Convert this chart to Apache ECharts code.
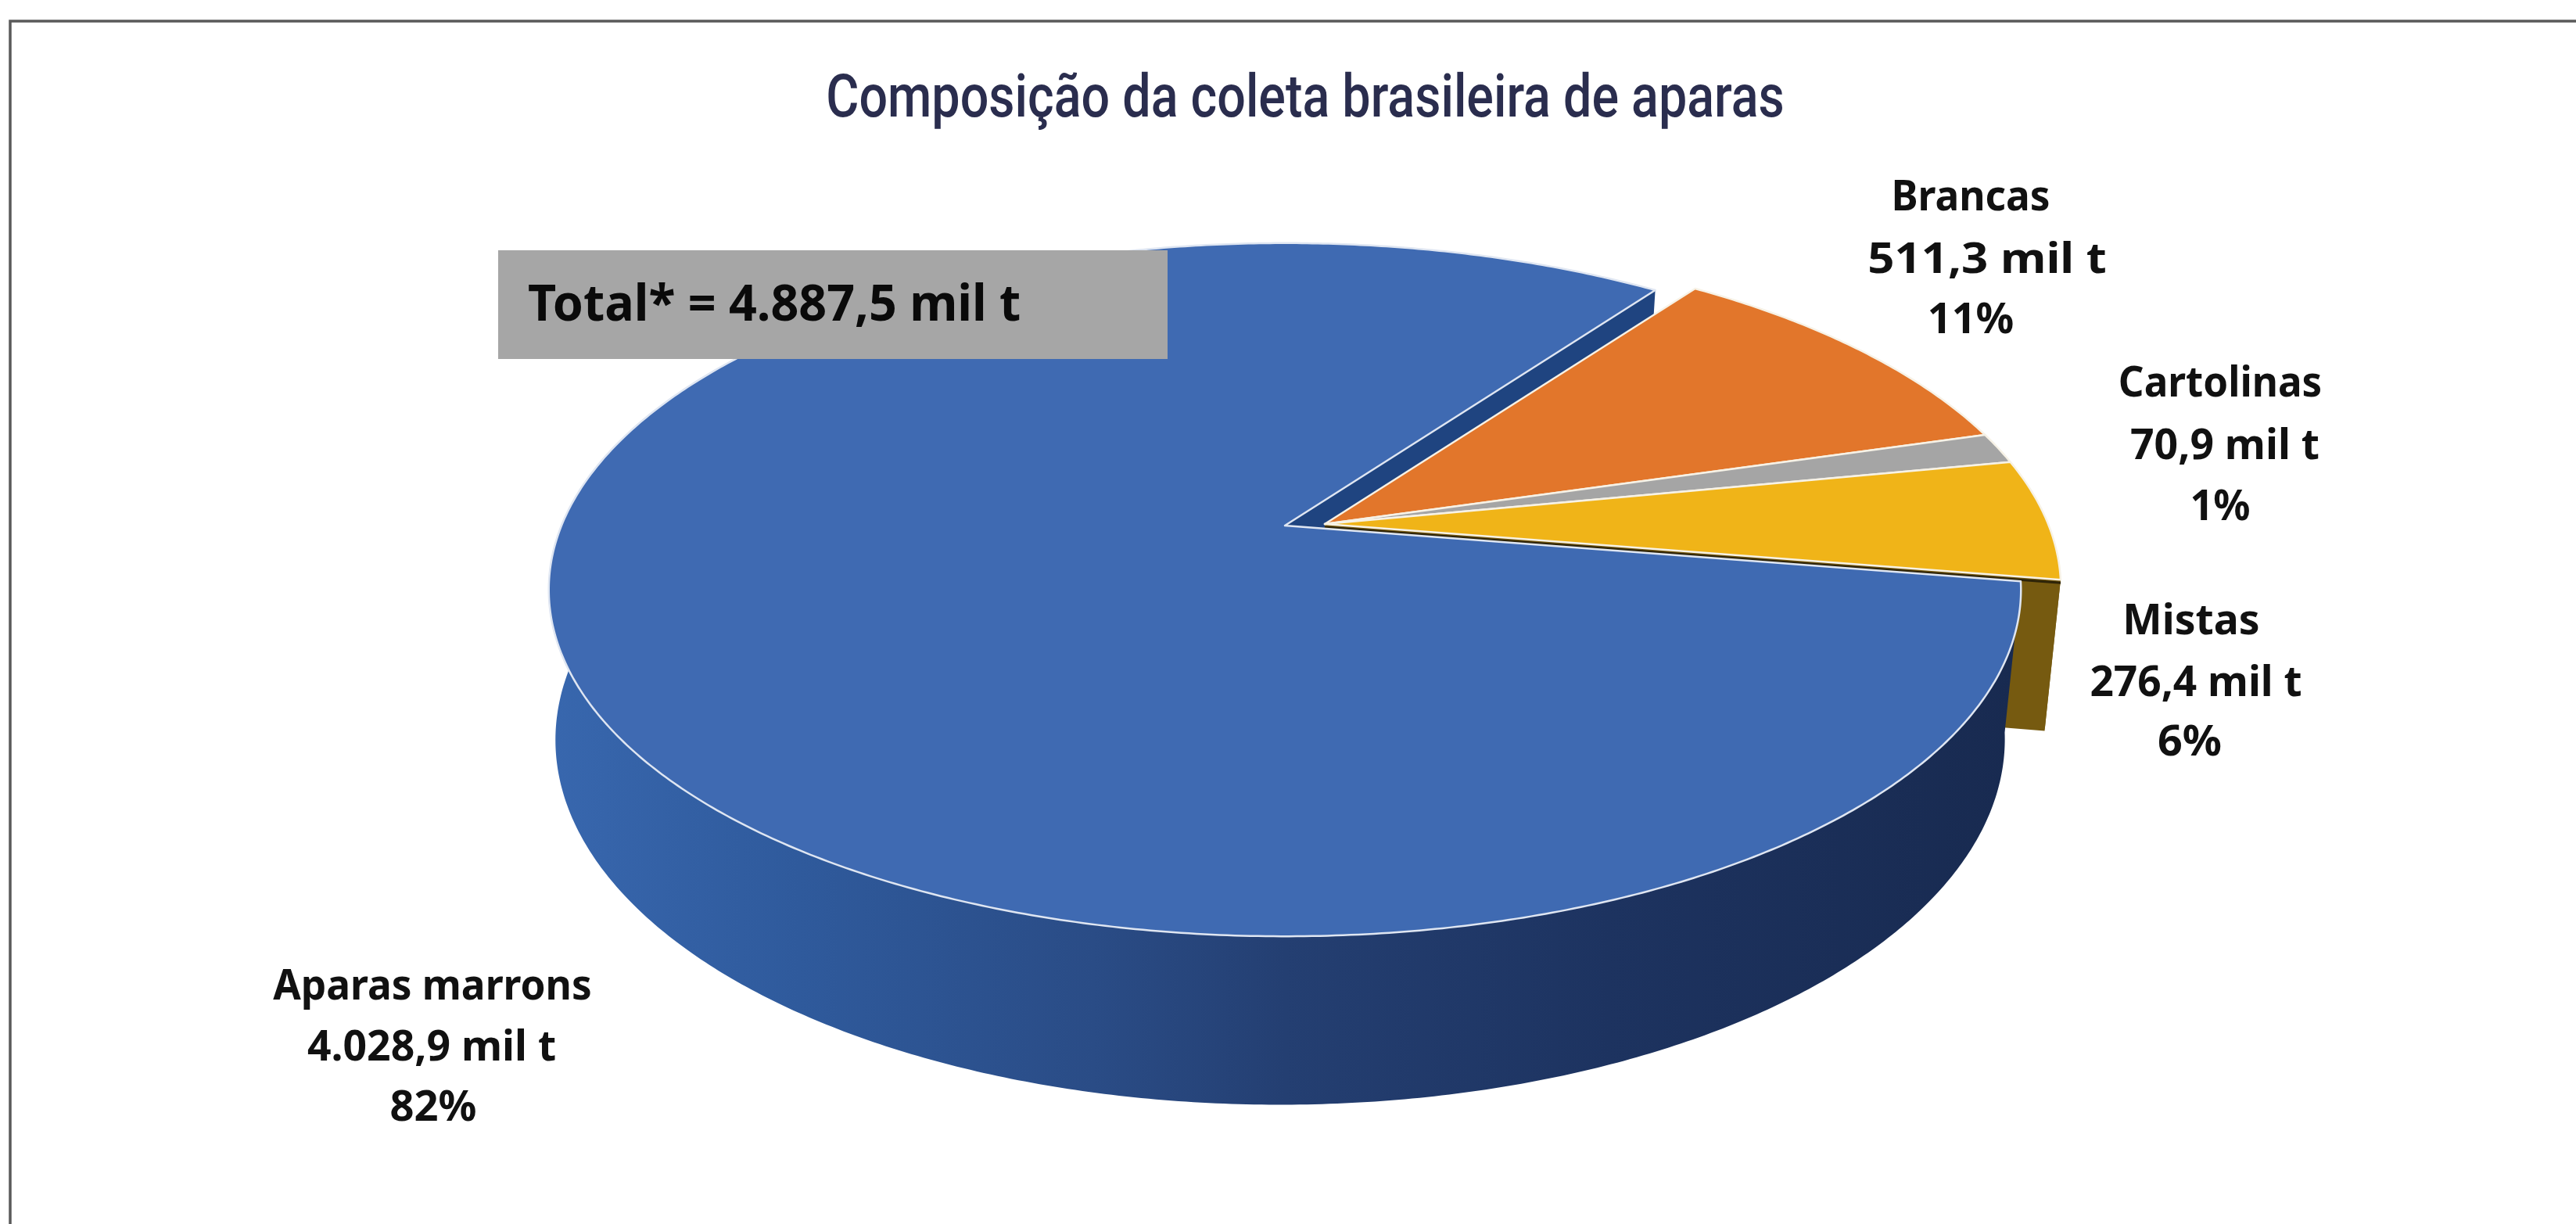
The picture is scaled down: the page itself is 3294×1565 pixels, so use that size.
<!DOCTYPE html>
<html lang="pt">
<head>
    <meta charset="UTF-8">
    <title>Composição da coleta brasileira de aparas</title>
    <script src="https://cdn.jsdelivr.net/npm/echarts@6/dist/echarts.min.js"></script>
    <style>
        html, body { margin: 0; padding: 0; background: #fff; }
        #chart { width: 3294px; height: 1565px; }
    </style>
</head>
<body>
    <div id="chart"></div>
    <script>
        // dados
        const categories = ['Aparas marrons', 'Brancas', 'Cartolinas', 'Mistas'];
        const tons = [4028.9, 511.3, 70.9, 276.4];
        const tonLabels = ['4.028,9 mil t', '511,3 mil t', '70,9 mil t', '276,4 mil t'];
        const shareLabels = ['82%', '11%', '1%', '6%'];
        const totalLabel = 'Total* = 4.887,5 mil t';
        const chartTitle = 'Composição da coleta brasileira de aparas';

        const topColors = ['#3f6ab2', '#e2762b', '#a5a5a5', '#f0b418'];

        // posição e largura de cada linha dos rótulos
        const labelBoxes = [
            { x: [553, 552, 554], y: [1263, 1341, 1418], scaleX: [0.951, 0.99, 1.005] },
            { x: [2520, 2541, 2520], y: [254, 334, 411], scaleX: [0.95, 1.11, 1.0] },
            { x: [2839, 2845, 2839], y: [492, 572, 650], scaleX: [0.946, 0.99, 0.97] },
            { x: [2802, 2808, 2800], y: [796, 875, 951], scaleX: [0.99, 0.985, 1.03] }
        ];

        // perspectiva do disco
        const PIE = { R: 925, S: 428, k: 0.185, m: 0.025, q: 0.01, n: 194, p: -6, startDeg: 9.3 };
        const ORIGIN = { x: 1694, y: 670 };
        const ORIGIN_EXPLODED = { x: 1643, y: 672 };

        function project(deg, z, o) {
            const a = deg * Math.PI / 180;
            const X = Math.cos(a), Y = Math.sin(a);
            const w = 1 - PIE.k * Y + PIE.m * z;
            return [
                o.x + (PIE.R * (1 + PIE.q * z) * X + PIE.p * z) / w,
                o.y + (PIE.S * Y + PIE.n * z) / w
            ];
        }

        function apex(z, o) {
            const w = 1 + PIE.m * z;
            return [o.x + PIE.p * z / w, o.y + PIE.n * z / w];
        }

        function arc(from, to, z, o) {
            const pts = [];
            const steps = Math.max(2, Math.ceil(Math.abs(to - from) * 2));
            for (let i = 0; i <= steps; i++) {
                pts.push(project(from + (to - from) * i / steps, z, o));
            }
            return pts;
        }

        function sliceAngles(index) {
            const total = tons.reduce((s, v) => s + v, 0);
            let start = PIE.startDeg;
            for (let i = 0; i < index; i++) start += tons[i] / total * 360;
            return [start, start + tons[index] / total * 360];
        }

        function renderSlice(params, api) {
            const i = params.dataIndex;
            const [a0, a1] = sliceAngles(i);
            const o = i === 0 ? ORIGIN_EXPLODED : ORIGIN;
            const children = [];

            if (i === 0) {
                // parede frontal com degradê
                const wall = arc(a0, 200, 0, o).concat(arc(200, a0, 1, o));
                children.push({
                    type: 'polygon', z2: 40, shape: { points: wall },
                    style: {
                        fill: {
                            type: 'linear', x: 0, y: 0, x2: 1, y2: 0,
                            colorStops: [
                                { offset: 0, color: '#3867ae' },
                                { offset: 0.17, color: '#2f5a9c' },
                                { offset: 0.37, color: '#2a4c86' },
                                { offset: 0.5, color: '#243f72' },
                                { offset: 0.72, color: '#1d3360' },
                                { offset: 1, color: '#182a50' }
                            ]
                        }
                    }
                });
                // face do corte, ao lado de Brancas
                const tipTop = project(a1, 0, o), tipBottom = project(a1, 1, o);
                children.push({
                    type: 'polygon', z2: 5,
                    shape: { points: [apex(0, o), tipTop, tipBottom, apex(1, o)] },
                    style: { fill: '#1f4480' }
                });
            }
            if (i === 3) {
                // Mistas: parede externa e face do corte
                const wall = arc(a0, a1, 0, o).concat(arc(a1, a0, 1, o));
                children.push({
                    type: 'polygon', z2: 10, shape: { points: wall },
                    style: { fill: '#765a10' }
                });
                const cornerTop = project(a1, 0, o), cornerBottom = project(a1, 1, o);
                children.push({
                    type: 'polygon', z2: 10,
                    shape: { points: [apex(0, o), cornerTop, cornerBottom, apex(1, o)] },
                    style: { fill: '#765a10' }
                });
                // fresta escura entre Mistas e Aparas marrons
                const a = apex(0, o);
                children.push({
                    type: 'polyline', z2: 15,
                    shape: { points: [[a[0], a[1] + 4], [cornerTop[0], cornerTop[1] + 4]] },
                    style: { fill: null, stroke: '#2e2408', lineWidth: 3 }
                });
            }

            children.push({
                type: 'polygon', z2: i === 0 ? 50 : 20,
                shape: { points: [apex(0, o)].concat(arc(a0, a1, 0, o)) },
                style: {
                    fill: topColors[i],
                    stroke: i === 0 ? '#dfe6f2' : '#f7f2e6',
                    lineWidth: 2.5,
                    lineJoin: 'round'
                }
            });
            return { type: 'group', children: children };
        }

        function renderLabel(params, api) {
            const i = params.dataIndex;
            const box = labelBoxes[i];
            const lines = [categories[i], tonLabels[i], shareLabels[i]];
            return {
                type: 'group',
                children: lines.map((line, n) => ({
                    type: 'text',
                    x: box.x[n],
                    y: box.y[n],
                    scaleX: box.scaleX[n],
                    style: {
                        text: line,
                        fontFamily: '"Noto Sans"',
                        fontSize: 54,
                        fontWeight: 'bold',
                        fill: '#111111',
                        align: 'center',
                        verticalAlign: 'middle'
                    }
                }))
            };
        }

        const chart = echarts.init(document.getElementById('chart'), null, { renderer: 'canvas' });
        chart.setOption({
            animation: false,
            backgroundColor: '#ffffff',
            series: [
                {
                    type: 'custom',
                    coordinateSystem: 'none',
                    renderItem: renderSlice,
                    data: tons,
                    silent: true
                },
                {
                    type: 'custom',
                    coordinateSystem: 'none',
                    renderItem: renderLabel,
                    data: categories.map((c, i) => tons[i]),
                    silent: true,
                    z: 5
                }
            ],
            graphic: {
                elements: [
                    {
                        type: 'text', z: 101,
                        x: 1669, y: 130, scaleX: 0.85,
                        style: {
                            text: chartTitle,
                            fontFamily: 'Roboto',
                            fontSize: 76,
                            fontWeight: 500,
                            fill: '#2a2d4e',
                            align: 'center',
                            verticalAlign: 'middle'
                        }
                    },
                    {
                        type: 'rect', z: 100,
                        shape: { x: 637, y: 320, width: 856, height: 139 },
                        style: { fill: '#a6a6a6' }
                    },
                    {
                        type: 'text', z: 101,
                        x: 675, y: 392, scaleX: 0.98,
                        style: {
                            text: totalLabel,
                            fontFamily: '"Noto Sans"',
                            fontSize: 64,
                            fontWeight: 'bold',
                            fill: '#0a0a0a',
                            align: 'left',
                            verticalAlign: 'middle'
                        }
                    },
                    {
                        type: 'polyline', z: 100,
                        shape: { points: [[13, 1565], [13, 27], [3294, 27]] },
                        style: { fill: null, stroke: '#5a5a5a', lineWidth: 3.5 }
                    }
                ]
            }
        });
    </script>
</body>
</html>
